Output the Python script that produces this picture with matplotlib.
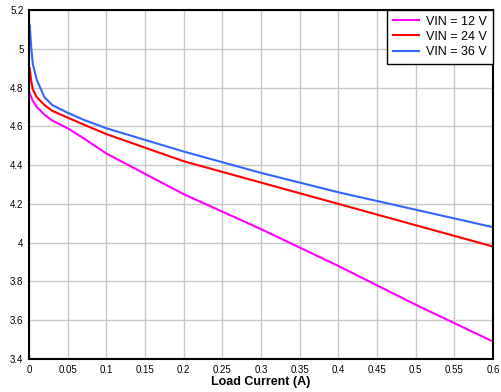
import matplotlib
matplotlib.use("Agg")
import matplotlib.pyplot as plt

plt.rcParams['font.family'] = ['Liberation Sans', 'DejaVu Sans']

# Output voltage vs load current for three input voltages
load_a = [0.001, 0.003, 0.005, 0.01, 0.02, 0.03, 0.05, 0.07, 0.1, 0.2, 0.3, 0.4, 0.5, 0.6]
vout_12v = [4.77, 4.75, 4.73, 4.70, 4.66, 4.63, 4.59, 4.54, 4.46, 4.25, 4.07, 3.88, 3.68, 3.49]
vout_24v = [4.90, 4.83, 4.79, 4.75, 4.71, 4.68, 4.645, 4.61, 4.56, 4.42, 4.31, 4.20, 4.09, 3.98]
vout_36v = [5.12, 5.00, 4.92, 4.84, 4.75, 4.71, 4.67, 4.635, 4.59, 4.47, 4.36, 4.26, 4.17, 4.08]

series = [("VIN = 12 V", vout_12v, "#ff00ff"),
          ("VIN = 24 V", vout_24v, "#ff0000"),
          ("VIN = 36 V", vout_36v, "#3366ff")]

fig = plt.figure(figsize=(5.01, 3.92), dpi=100)
ax = fig.add_axes([29 / 501, 1 - 359 / 392, 464 / 501, 349 / 392])

for label, v, c in series:
    ax.plot(load_a, v, color=c, lw=1.5, label=label)

ax.set_xlim(0, 0.6)
ax.set_ylim(3.4, 5.2)
ax.set_xticks([0, 0.05, 0.1, 0.15, 0.2, 0.25, 0.3, 0.35, 0.4, 0.45, 0.5, 0.55, 0.6])
ax.set_xticklabels(["0", "0.05", "0.1", "0.15", "0.2", "0.25", "0.3", "0.35",
                    "0.4", "0.45", "0.5", "0.55", "0.6"])
ax.set_yticks([3.4, 3.6, 3.8, 4, 4.2, 4.4, 4.6, 4.8, 5, 5.2])
ax.set_yticklabels(["3.4", "3.6", "3.8", "4", "4.2", "4.4", "4.6", "4.8", "5", "5.2"])
ax.tick_params(labelsize=7, length=0, pad=4)
ax.grid(True, color="#c8c8c8", lw=1)
ax.set_axisbelow(True)
for side in ["left", "bottom", "top", "right"]:
    ax.spines[side].set_linewidth(1.5)

ax.set_xlabel("Load Current (A)", fontsize=9, fontweight="bold", labelpad=1)

leg = ax.legend(loc="upper right", fontsize=9, fancybox=False, framealpha=1,
                edgecolor="black", borderaxespad=0, handlelength=2.1,
                labelspacing=0.25, borderpad=0.45, handletextpad=0.6)
leg.get_frame().set_linewidth(1)

fig.savefig("out.png", dpi=100)
